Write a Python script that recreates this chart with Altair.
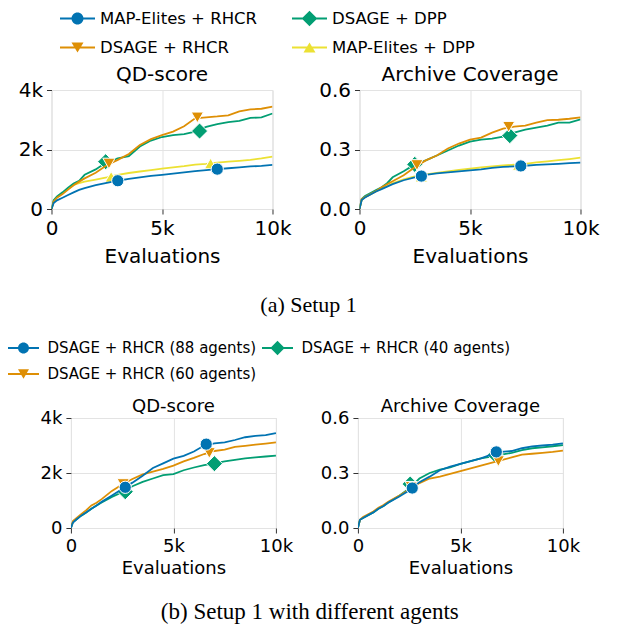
import altair as alt
import pandas as pd

# ---------------- data ----------------
EVALS = [0, 100, 250, 500, 750, 1000, 1250, 1500, 2000, 2500, 3000, 3500, 4000,
         4500, 5000, 5500, 6000, 6500, 7000, 7500, 8000, 8500, 9000, 9500, 10000]

# Setup 1 - QD-score
QD1_ME_RHCR = [0, 200, 290, 380, 470, 560, 640, 700, 800, 880, 950, 1010, 1060,
               1110, 1150, 1190, 1230, 1270, 1310, 1340, 1370, 1400, 1430, 1450, 1480]
QD1_DSAGE_RHCR = [0, 250, 380, 500, 650, 800, 920, 1030, 1220, 1470, 1650, 1850, 2150,
                  2350, 2480, 2600, 2780, 3050, 3080, 3110, 3150, 3280, 3350, 3370, 3440]
QD1_DSAGE_DPP = [0, 300, 420, 560, 720, 860, 950, 1150, 1330, 1580, 1700, 1780, 2100,
                 2300, 2420, 2480, 2520, 2600, 2760, 2850, 2920, 2960, 3060, 3080, 3210]
QD1_ME_DPP = [0, 280, 400, 540, 680, 810, 870, 920, 990, 1060, 1150, 1210, 1260,
              1310, 1360, 1400, 1440, 1490, 1520, 1560, 1590, 1620, 1650, 1700, 1760]

# Setup 1 - Archive coverage
COV1_ME_RHCR = [0, 0.045, 0.058, 0.073, 0.088, 0.100, 0.113, 0.125, 0.145, 0.160, 0.172, 0.180, 0.185,
                0.190, 0.195, 0.200, 0.207, 0.212, 0.215, 0.218, 0.222, 0.225, 0.228, 0.231, 0.234]
COV1_DSAGE_RHCR = [0, 0.050, 0.060, 0.075, 0.090, 0.110, 0.125, 0.140, 0.170, 0.210, 0.245, 0.270, 0.305,
                   0.330, 0.350, 0.360, 0.385, 0.405, 0.415, 0.420, 0.435, 0.448, 0.450, 0.455, 0.462]
COV1_DSAGE_DPP = [0, 0.050, 0.065, 0.080, 0.095, 0.110, 0.130, 0.160, 0.190, 0.225, 0.245, 0.270, 0.295,
                  0.320, 0.340, 0.350, 0.355, 0.365, 0.385, 0.400, 0.410, 0.420, 0.435, 0.436, 0.452]
COV1_ME_DPP = [0, 0.045, 0.060, 0.075, 0.090, 0.104, 0.115, 0.130, 0.150, 0.165, 0.175, 0.182, 0.190,
               0.197, 0.203, 0.210, 0.215, 0.220, 0.223, 0.228, 0.235, 0.240, 0.246, 0.252, 0.259]

# Setup 1 with different agents - QD-score
QD2_88 = [0, 200, 300, 450, 570, 700, 820, 950, 1180, 1420, 1650, 1900, 2180,
          2350, 2520, 2620, 2780, 3000, 3080, 3110, 3200, 3300, 3350, 3380, 3450]
QD2_60 = [0, 250, 350, 500, 650, 820, 920, 1050, 1350, 1580, 1780, 1950, 2050,
          2150, 2270, 2420, 2550, 2690, 2800, 2850, 2950, 2990, 3030, 3070, 3110]
QD2_40 = [0, 220, 300, 450, 560, 700, 820, 930, 1130, 1300, 1520, 1680, 1800,
          1920, 1960, 2100, 2200, 2290, 2350, 2420, 2480, 2530, 2570, 2600, 2630]

# Setup 1 with different agents - Archive coverage
COV2_88 = [0, 0.045, 0.055, 0.070, 0.085, 0.105, 0.120, 0.140, 0.170, 0.205, 0.250, 0.280, 0.315,
           0.335, 0.350, 0.365, 0.380, 0.400, 0.415, 0.420, 0.435, 0.445, 0.450, 0.455, 0.462]
COV2_60 = [0, 0.045, 0.060, 0.075, 0.090, 0.110, 0.125, 0.145, 0.175, 0.210, 0.245, 0.270, 0.280,
           0.295, 0.310, 0.325, 0.340, 0.355, 0.370, 0.385, 0.400, 0.405, 0.410, 0.415, 0.422]
COV2_40 = [0, 0.045, 0.055, 0.070, 0.085, 0.105, 0.120, 0.140, 0.175, 0.215, 0.270, 0.300, 0.318,
           0.330, 0.350, 0.365, 0.380, 0.390, 0.400, 0.410, 0.425, 0.435, 0.440, 0.446, 0.452]

# marker positions (evaluations, value)
MK_QD1_ME_RHCR = ([3000, 7500], [950, 1340])
MK_QD1_DSAGE_RHCR = ([2600, 6600], [1530, 3080])
MK_QD1_DSAGE_DPP = ([2450, 6700], [1590, 2620])
MK_QD1_ME_DPP = ([2700, 7200], [1080, 1530])
MK_COV1_ME_RHCR = ([2800, 7300], [0.166, 0.217])
MK_COV1_DSAGE_RHCR = ([2600, 6750], [0.222, 0.415])
MK_COV1_DSAGE_DPP = ([2500, 6800], [0.225, 0.370])
MK_COV1_ME_DPP = ([2800, 7200], [0.163, 0.222])
MK_QD2_88 = ([2650, 6600], [1480, 3050])
MK_QD2_60 = ([2550, 6750], [1600, 2730])
MK_QD2_40 = ([2650, 7000], [1320, 2340])
MK_COV2_88 = ([2650, 6750], [0.218, 0.415])
MK_COV2_60 = ([2600, 6850], [0.225, 0.365])
MK_COV2_40 = ([2550, 6700], [0.240, 0.398])

# series (legend order, row-wise)
S1_NAMES = ["MAP-Elites + RHCR", "DSAGE + DPP", "DSAGE + RHCR", "MAP-Elites + DPP"]
S1_COLORS = ["#0173B2", "#029E73", "#DE8F05", "#ECE133"]
S1_SHAPES = ["circle", "diamond", "triangle-down", "triangle-up"]
S1_DRAW = ["MAP-Elites + DPP", "DSAGE + DPP", "DSAGE + RHCR", "MAP-Elites + RHCR"]

S2_NAMES = ["DSAGE + RHCR (88 agents)", "DSAGE + RHCR (40 agents)", "DSAGE + RHCR (60 agents)"]
S2_COLORS = ["#0173B2", "#029E73", "#DE8F05"]
S2_SHAPES = ["circle", "diamond", "triangle-down"]
S2_DRAW = ["DSAGE + RHCR (40 agents)", "DSAGE + RHCR (60 agents)", "DSAGE + RHCR (88 agents)"]

MARKER_SIZES = {"circle": 150, "diamond": 260, "triangle-down": 150, "triangle-up": 150}

S1_KEYS = ["MAP-Elites + RHCR", "DSAGE + RHCR", "DSAGE + DPP", "MAP-Elites + DPP"]
S2_KEYS = ["DSAGE + RHCR (88 agents)", "DSAGE + RHCR (60 agents)", "DSAGE + RHCR (40 agents)"]
TOP_LINES_QD = dict(zip(S1_KEYS, [QD1_ME_RHCR, QD1_DSAGE_RHCR, QD1_DSAGE_DPP, QD1_ME_DPP]))
TOP_LINES_COV = dict(zip(S1_KEYS, [COV1_ME_RHCR, COV1_DSAGE_RHCR, COV1_DSAGE_DPP, COV1_ME_DPP]))
TOP_MK_QD = dict(zip(S1_KEYS, [MK_QD1_ME_RHCR, MK_QD1_DSAGE_RHCR, MK_QD1_DSAGE_DPP, MK_QD1_ME_DPP]))
TOP_MK_COV = dict(zip(S1_KEYS, [MK_COV1_ME_RHCR, MK_COV1_DSAGE_RHCR, MK_COV1_DSAGE_DPP, MK_COV1_ME_DPP]))
BOT_LINES_QD = dict(zip(S2_KEYS, [QD2_88, QD2_60, QD2_40]))
BOT_LINES_COV = dict(zip(S2_KEYS, [COV2_88, COV2_60, COV2_40]))
BOT_MK_QD = dict(zip(S2_KEYS, [MK_QD2_88, MK_QD2_60, MK_QD2_40]))
BOT_MK_COV = dict(zip(S2_KEYS, [MK_COV2_88, MK_COV2_60, MK_COV2_40]))


# ---------------- legend symbols (line + marker) ----------------
def f(v):
    return f"{v:.3f}"


def legend_path(shape, unit, half_len, r, thick):
    L = half_len / unit
    R = r / unit
    T = thick / 2 / unit
    line = f"M{f(-L)},{f(-T)}H{f(L)}V{f(T)}H{f(-L)}Z"
    if shape == "circle":
        m = f"M{f(R)},0A{f(R)},{f(R)},0,1,1,{f(-R)},0A{f(R)},{f(R)},0,1,1,{f(R)},0Z"
    elif shape == "diamond":
        D = R * 1.3
        m = f"M0,{f(-D)}L{f(D)},0L0,{f(D)}L{f(-D)},0Z"
    elif shape == "triangle-down":
        h = R * 0.85
        m = f"M{f(-R)},{f(-h)}L{f(R)},{f(-h)}L0,{f(h)}Z"
    else:
        h = R * 0.85
        m = f"M{f(R)},{f(h)}L{f(-R)},{f(h)}L0,{f(-h)}Z"
    return line + " " + m


def make_legend(names, colors, shapes, size_px, half_len, r, fs, lx, ly, colpad, rowpad, loff):
    unit = size_px / 2
    paths = [legend_path(s, unit, half_len, r, 2.0) for s in shapes]
    names_js = "[" + ",".join("'" + n + "'" for n in names) + "]"
    paths_js = "[" + ",".join("'" + p + "'" for p in paths) + "]"
    cols_js = "[" + ",".join("'" + c + "'" for c in colors) + "]"
    idx = f"indexof({names_js}, datum.value)"
    return alt.Legend(
        title=None, orient="none", legendX=lx, legendY=ly, columns=2,
        direction="horizontal",
        symbolSize=size_px * size_px, symbolOffset=half_len - size_px / 2,
        symbolType={"expr": f"{paths_js}[{idx}]"},
        symbolFillColor={"expr": f"{cols_js}[{idx}]"},
        symbolStrokeWidth=0, symbolOpacity=1,
        labelOffset=loff, labelFontSize=fs, labelFont="DejaVu Sans", labelColor="#000",
        labelLimit=400, columnPadding=colpad, rowPadding=rowpad, padding=0,
    )


def k_expr():
    return "datum.value == 0 ? '0' : format(datum.value / 1000, 'd') + 'k'"


def panel(lines, markers, names, colors, shapes, draw_order, title, ydom, yvals,
          ylab_expr, w, h, fs, line_key, mark_key, legend, tpad, toff):
    xenc = alt.X("evals:Q", scale=alt.Scale(domain=[0, 10000], nice=False),
                 axis=alt.Axis(values=[0, 5000, 10000], labelExpr=k_expr(), title="Evaluations",
                               grid=True, gridColor="#e3e3e3", domain=False,
                               tickSize=5, tickColor="#333", labelPadding=4,
                               labelFontSize=fs, titleFontSize=fs, titleFontWeight="normal",
                               titlePadding=tpad, labelFlush=False, labelColor="#000",
                               titleColor="#000", labelFont="DejaVu Sans", titleFont="DejaVu Sans"))
    yenc = alt.Y("value:Q", scale=alt.Scale(domain=ydom, nice=False),
                 axis=alt.Axis(values=yvals, labelExpr=ylab_expr, title=None,
                               grid=True, gridColor="#e3e3e3", domain=False,
                               tickSize=5, tickColor="#333", labelPadding=4,
                               labelFontSize=fs, labelFlush=False, labelColor="#000",
                               labelFont="DejaVu Sans"))
    sc = alt.Scale(domain=names, range=colors)
    shape_of = dict(zip(names, shapes))
    chan_cls = {"color": alt.Color, "stroke": alt.Stroke, "fill": alt.Fill}
    layers = []
    first = True
    for s in draw_order:
        ldf = pd.DataFrame({"evals": EVALS, "value": lines[s], "series": s})
        mx, my = markers[s]
        mdf = pd.DataFrame({"evals": mx, "value": my, "series": s})
        if first and legend is not None:
            lch = chan_cls[line_key]("series:N", scale=sc, legend=legend)
        else:
            lch = chan_cls[line_key]("series:N", scale=sc, legend=None)
        first = False
        layers.append(alt.Chart(ldf).mark_line(strokeWidth=1.8, clip=True)
                      .encode(x=xenc, y=yenc, **{line_key: lch}))
        mch = chan_cls[mark_key]("series:N", scale=sc, legend=None)
        sh = shape_of[s]
        layers.append(alt.Chart(mdf).mark_point(filled=True, shape=sh, size=MARKER_SIZES[sh],
                                                stroke="white", strokeWidth=1, opacity=1)
                      .encode(x=xenc, y=yenc, **{mark_key: mch}))
    return alt.layer(*layers).properties(
        width=w, height=h,
        title=alt.TitleParams(title, fontSize=fs, fontWeight="normal", font="DejaVu Sans",
                              color="#000", offset=toff, frame="group"))


cov_expr = "format(datum.value, '.1f')"

leg1 = make_legend(S1_NAMES, S1_COLORS, S1_SHAPES, 29, 17.5, 6, 16.5, 9, -86, 33, 6, 8)
leg2 = make_legend(S2_NAMES, S2_COLORS, S2_SHAPES, 26, 15.5, 5.5, 15, -43, 245, 5, 5, 11)

a1 = panel(TOP_LINES_QD, TOP_MK_QD, S1_NAMES, S1_COLORS, S1_SHAPES, S1_DRAW, "QD-score",
           [0, 4000], [0, 2000, 4000], k_expr(), 221, 119, 20, "color", "color", leg1, 8, -5)
a2 = panel(TOP_LINES_COV, TOP_MK_COV, S1_NAMES, S1_COLORS, S1_SHAPES, S1_DRAW, "Archive Coverage",
           [0, 0.6], [0, 0.3, 0.6], cov_expr, 221, 119, 20, "color", "color", None, 8, -5)
b1 = panel(BOT_LINES_QD, BOT_MK_QD, S2_NAMES, S2_COLORS, S2_SHAPES, S2_DRAW, "QD-score",
           [0, 4000], [0, 2000, 4000], k_expr(), 205, 110, 18, "stroke", "fill", leg2, 4, -7)
b2 = panel(BOT_LINES_COV, BOT_MK_COV, S2_NAMES, S2_COLORS, S2_SHAPES, S2_DRAW, "Archive Coverage",
           [0, 0.6], [0, 0.3, 0.6], cov_expr, 205, 110, 18, "stroke", "fill", None, 4, -7)

row1 = alt.hconcat(a1, a2, spacing=25).resolve_scale(x="independent", y="independent").properties(
    title=alt.TitleParams("(a) Setup 1", orient="bottom", anchor="middle", font="Liberation Serif",
                          fontSize=22, fontWeight="normal", color="#000", offset=28))
row2 = alt.hconcat(b1, b2, spacing=25).resolve_scale(x="independent", y="independent").properties(
    title=alt.TitleParams("(b) Setup 1 with different agents", orient="bottom", anchor="middle",
                          font="Liberation Serif", fontSize=23, fontWeight="normal", color="#000",
                          offset=23))

chart = alt.vconcat(row1, row2, spacing=81, center=True).resolve_scale(
    x="independent", y="independent").properties(
    padding={"left": 0, "top": -4, "right": 0, "bottom": 0}
).configure_view(strokeWidth=0).configure(font="DejaVu Sans")

chart.save("out.html", embed_options={"renderer": "svg", "actions": False})
